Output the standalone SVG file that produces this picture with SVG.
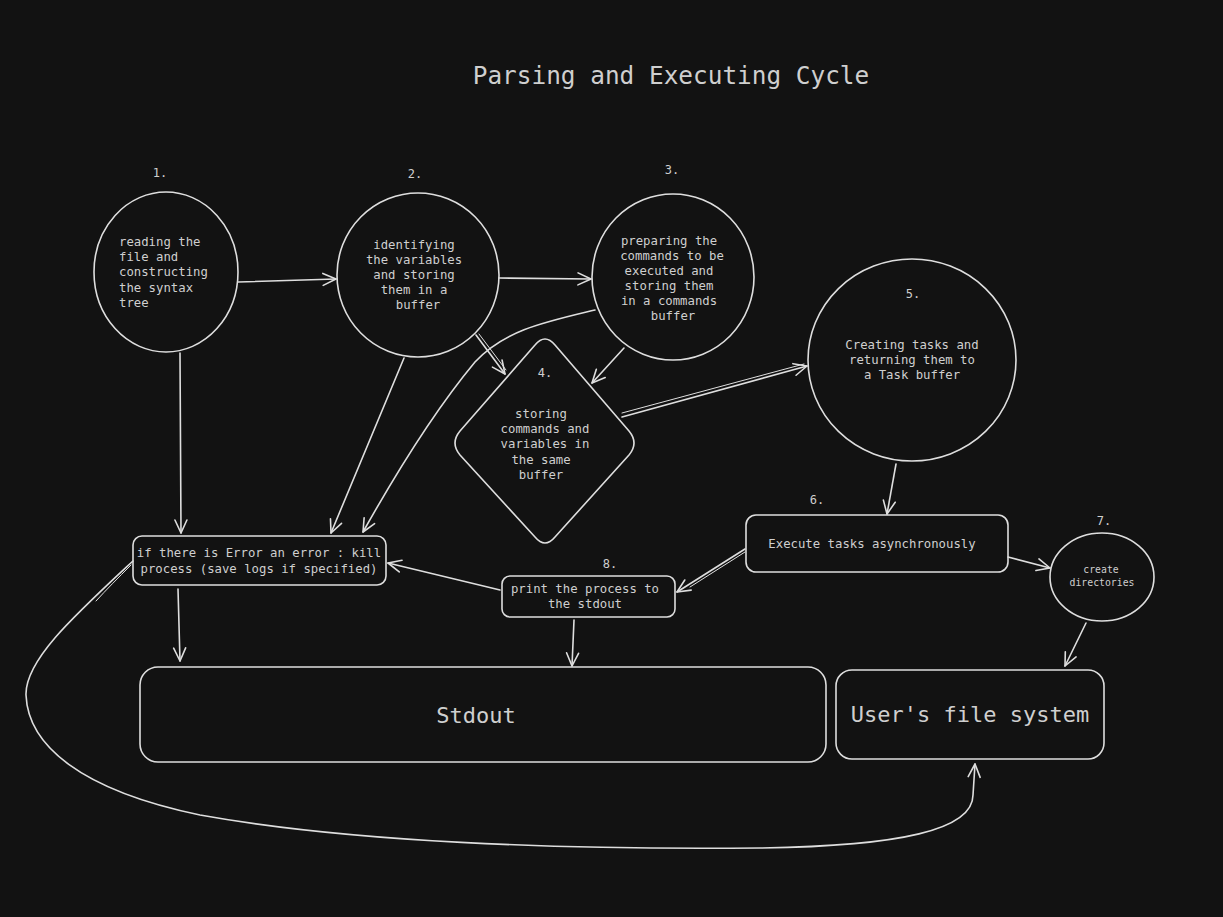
<svg xmlns="http://www.w3.org/2000/svg" width="1223" height="917" viewBox="0 0 1223 917">
<style>
.bg{fill:#121212}
.shape{fill:none;stroke:#dedede;stroke-width:1.6}
.conn{fill:none;stroke:#dedede;stroke-width:1.6;stroke-linecap:round}
.thin{fill:none;stroke:#dedede;stroke-width:1;stroke-linecap:round}
text{font-family:"DejaVu Sans Mono","Liberation Mono",monospace;fill:#cfcfcf}
.t{font-size:12.3px;text-anchor:middle}
.tl{font-size:12.3px}
.num{font-size:12px;text-anchor:middle}
.big{font-size:22px;text-anchor:middle}
</style>
<defs>
<marker id="arr" markerUnits="userSpaceOnUse" markerWidth="24" markerHeight="24" viewBox="-16 -12 24 24" refX="0" refY="0" orient="auto" overflow="visible">
<path d="M-13,-6 L0,0 L-13,6" fill="none" stroke="#dedede" stroke-width="1.6" stroke-linecap="round" stroke-linejoin="round"/>
</marker>
</defs>
<rect class="bg" x="0" y="0" width="1223" height="917"/>
<text x="671" y="84" style="font-size:24.4px;text-anchor:middle">Parsing and Executing Cycle</text>

<g id="node1">
<ellipse class="shape" cx="166" cy="272" rx="72" ry="80"/>
<text class="num" x="160" y="177">1.</text>
<text class="tl" x="119" y="246">reading the</text>
<text class="tl" x="119" y="261">file and</text>
<text class="tl" x="119" y="276">constructing</text>
<text class="tl" x="119" y="292">the syntax</text>
<text class="tl" x="119" y="307">tree</text>
</g>

<g id="node2">
<ellipse class="shape" cx="418" cy="275" rx="81" ry="82"/>
<text class="num" x="415" y="178">2.</text>
<text class="t" x="414" y="249">identifying</text>
<text class="t" x="414" y="264">the variables</text>
<text class="t" x="414" y="279">and storing</text>
<text class="t" x="414" y="294">them in a</text>
<text class="t" x="418" y="309">buffer</text>
</g>

<g id="node3">
<ellipse class="shape" cx="673" cy="277" rx="81" ry="83"/>
<text class="num" x="672" y="174">3.</text>
<text class="t" x="669" y="245">preparing the</text>
<text class="t" x="672" y="260">commands to be</text>
<text class="t" x="669" y="275">executed and</text>
<text class="t" x="669" y="290">storing them</text>
<text class="t" x="669" y="305">in a commands</text>
<text class="t" x="673" y="320">buffer</text>
</g>

<g id="node4">
<path class="shape" d="M535,345 Q545,333 555,345 L629,431 Q639,443 629,455 L555,537 Q545,549 535,537 L460,455 Q450,443 460,431 Z"/>
<text class="num" x="545" y="377">4.</text>
<text class="t" x="541" y="418">storing</text>
<text class="t" x="545" y="433">commands and</text>
<text class="t" x="545" y="448">variables in</text>
<text class="t" x="541" y="464">the same</text>
<text class="t" x="541" y="479">buffer</text>
</g>

<g id="node5">
<ellipse class="shape" cx="912" cy="360" rx="104" ry="101"/>
<text class="num" x="913" y="298">5.</text>
<text class="t" x="912" y="349">Creating tasks and</text>
<text class="t" x="912" y="364">returning them to</text>
<text class="t" x="912" y="379">a Task buffer</text>
</g>

<g id="node6">
<rect class="shape" x="746" y="515" width="262" height="57" rx="10"/>
<text class="num" x="817" y="504">6.</text>
<text class="t" x="872" y="548">Execute tasks asynchronously</text>
</g>

<g id="node7">
<ellipse class="shape" cx="1102" cy="577" rx="52" ry="44"/>
<text class="num" x="1104" y="525">7.</text>
<text x="1101" y="573" style="font-size:9.8px;text-anchor:middle">create</text>
<text x="1102" y="586" style="font-size:9.8px;text-anchor:middle">directories</text>
</g>

<g id="node-error">
<rect class="shape" x="133" y="536" width="253" height="49" rx="9"/>
<text class="t" x="259" y="557">if there is Error an error : kill</text>
<text class="t" x="259" y="573">process (save logs if specified)</text>
</g>

<g id="node8">
<rect class="shape" x="502" y="576" width="173" height="41" rx="8"/>
<text class="num" x="610" y="568">8.</text>
<text class="t" x="585" y="593">print the process to</text>
<text class="t" x="585" y="608">the stdout</text>
</g>

<g id="node-stdout">
<rect class="shape" x="140" y="667" width="686" height="95" rx="18"/>
<text class="big" x="476" y="723">Stdout</text>
</g>

<g id="node-fs">
<rect class="shape" x="836" y="670" width="268" height="89" rx="16"/>
<text class="big" x="970" y="722">User's file system</text>
</g>

<g id="connectors">
<path class="conn" d="M238,282 L336,279" marker-end="url(#arr)"/>
<path class="conn" d="M499,278 L591,279" marker-end="url(#arr)"/>
<path class="conn" d="M180,353 L181,533" marker-end="url(#arr)"/>
<path class="conn" d="M404,358 L331,533" marker-end="url(#arr)"/>
<path class="conn" d="M595,310 C545,322 505,330 475,362 C435,410 395,475 363,532" marker-end="url(#arr)"/>
<path class="conn" d="M476,335 L505,374" marker-end="url(#arr)"/>
<path class="thin" d="M479,334 L506,370"/>
<path class="conn" d="M624,348 L592,383" marker-end="url(#arr)"/>
<path class="conn" d="M622,417 L807,366" marker-end="url(#arr)"/>
<path class="thin" d="M622,413 L804,364"/>
<path class="conn" d="M896,464 L887,514" marker-end="url(#arr)"/>
<path class="conn" d="M745,549 L677,592" marker-end="url(#arr)"/>
<path class="thin" d="M745,552 L690,587"/>
<path class="conn" d="M1008,557 L1050,568" marker-end="url(#arr)"/>
<path class="conn" d="M500,590 L388,563" marker-end="url(#arr)"/>
<path class="conn" d="M178,589 L180,661" marker-end="url(#arr)"/>
<path class="conn" d="M574,620 L572,666" marker-end="url(#arr)"/>
<path class="conn" d="M1086,623 L1065,666" marker-end="url(#arr)"/>
<path class="conn" d="M133,561 C75,615 25,660 26,695 C28,745 80,790 200,815 C350,842 560,850 760,848 C900,846 973,830 973,795 L975,764" marker-end="url(#arr)"/>
<path class="thin" d="M131,565 C118,578 106,590 96,601"/>
</g>
</svg>
